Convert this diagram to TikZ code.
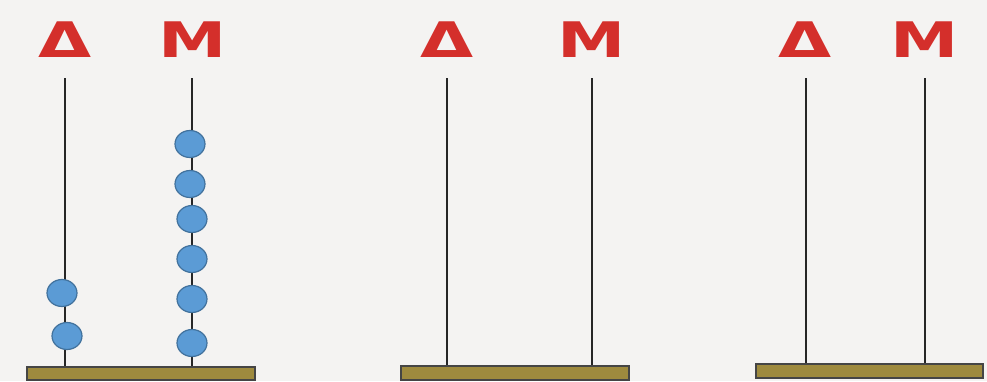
\documentclass[tikz,border=0pt]{standalone}
\usepackage{fontspec}
\usetikzlibrary{shapes.geometric}
\setmainfont{DejaVu Sans}
\definecolor{bg}{HTML}{F4F3F2}
\definecolor{lett}{HTML}{D42F2B}
\definecolor{beadfill}{HTML}{5B9BD5}
\definecolor{beadline}{HTML}{41719C}
\definecolor{basefill}{HTML}{9E8A3E}
\definecolor{baseline}{HTML}{454545}
\newcommand{\wideletter}[1]{\scalebox{1.4}[1]{#1}}
\begin{document}
\begin{tikzpicture}[x=1pt,y=-1pt,
  letter/.style={text=lett,font=\fontsize{49}{49}\selectfont\bfseries,inner sep=0pt,anchor=center},
  rod/.style={draw=black!85,line width=1.5pt},
  bead/.style={ellipse,fill=beadfill,draw=beadline,line width=1.2pt,minimum width=30pt,minimum height=27pt,inner sep=0pt},
  basebar/.style={fill=basefill,draw=baseline,line width=1.5pt}]
\fill[bg] (0,0) rectangle (987,381);
\useasboundingbox (0,0) rectangle (987,381);
% panel 1
\node[letter] (d1) at (65,40) {\wideletter{Δ}};
\node[letter] (m1) at (193,40) {\wideletter{M}};
\coordinate (d1t) at (65,78); \coordinate (d1b) at (65,368);
\coordinate (m1t) at (192,78); \coordinate (m1b) at (192,368);
\draw[rod] (d1t) -- (d1b);
\draw[rod] (m1t) -- (m1b);
\draw[basebar] (27,367) rectangle (255,380);
\node[bead] (b1) at (62,293) {};
\node[bead] (b2) at (67,336) {};
\node[bead] (c1) at (190,144) {};
\node[bead] (c2) at (190,184) {};
\node[bead] (c3) at (192,219) {};
\node[bead] (c4) at (192,259) {};
\node[bead] (c5) at (192,299) {};
\node[bead] (c6) at (192,343) {};
% panel 2
\node[letter] (d2) at (447,40) {\wideletter{Δ}};
\node[letter] (m2) at (592,40) {\wideletter{M}};
\coordinate (d2t) at (447,78); \coordinate (d2b) at (447,367);
\coordinate (m2t) at (592,78); \coordinate (m2b) at (592,367);
\draw[rod] (d2t) -- (d2b);
\draw[rod] (m2t) -- (m2b);
\draw[basebar] (401,366) rectangle (629,380);
% panel 3
\node[letter] (d3) at (805,40) {\wideletter{Δ}};
\node[letter] (m3) at (925,40) {\wideletter{M}};
\coordinate (d3t) at (806,78); \coordinate (d3b) at (806,365);
\coordinate (m3t) at (925,78); \coordinate (m3b) at (925,365);
\draw[rod] (d3t) -- (d3b);
\draw[rod] (m3t) -- (m3b);
\draw[basebar] (756,364) rectangle (983,378);
\end{tikzpicture}
\end{document}
